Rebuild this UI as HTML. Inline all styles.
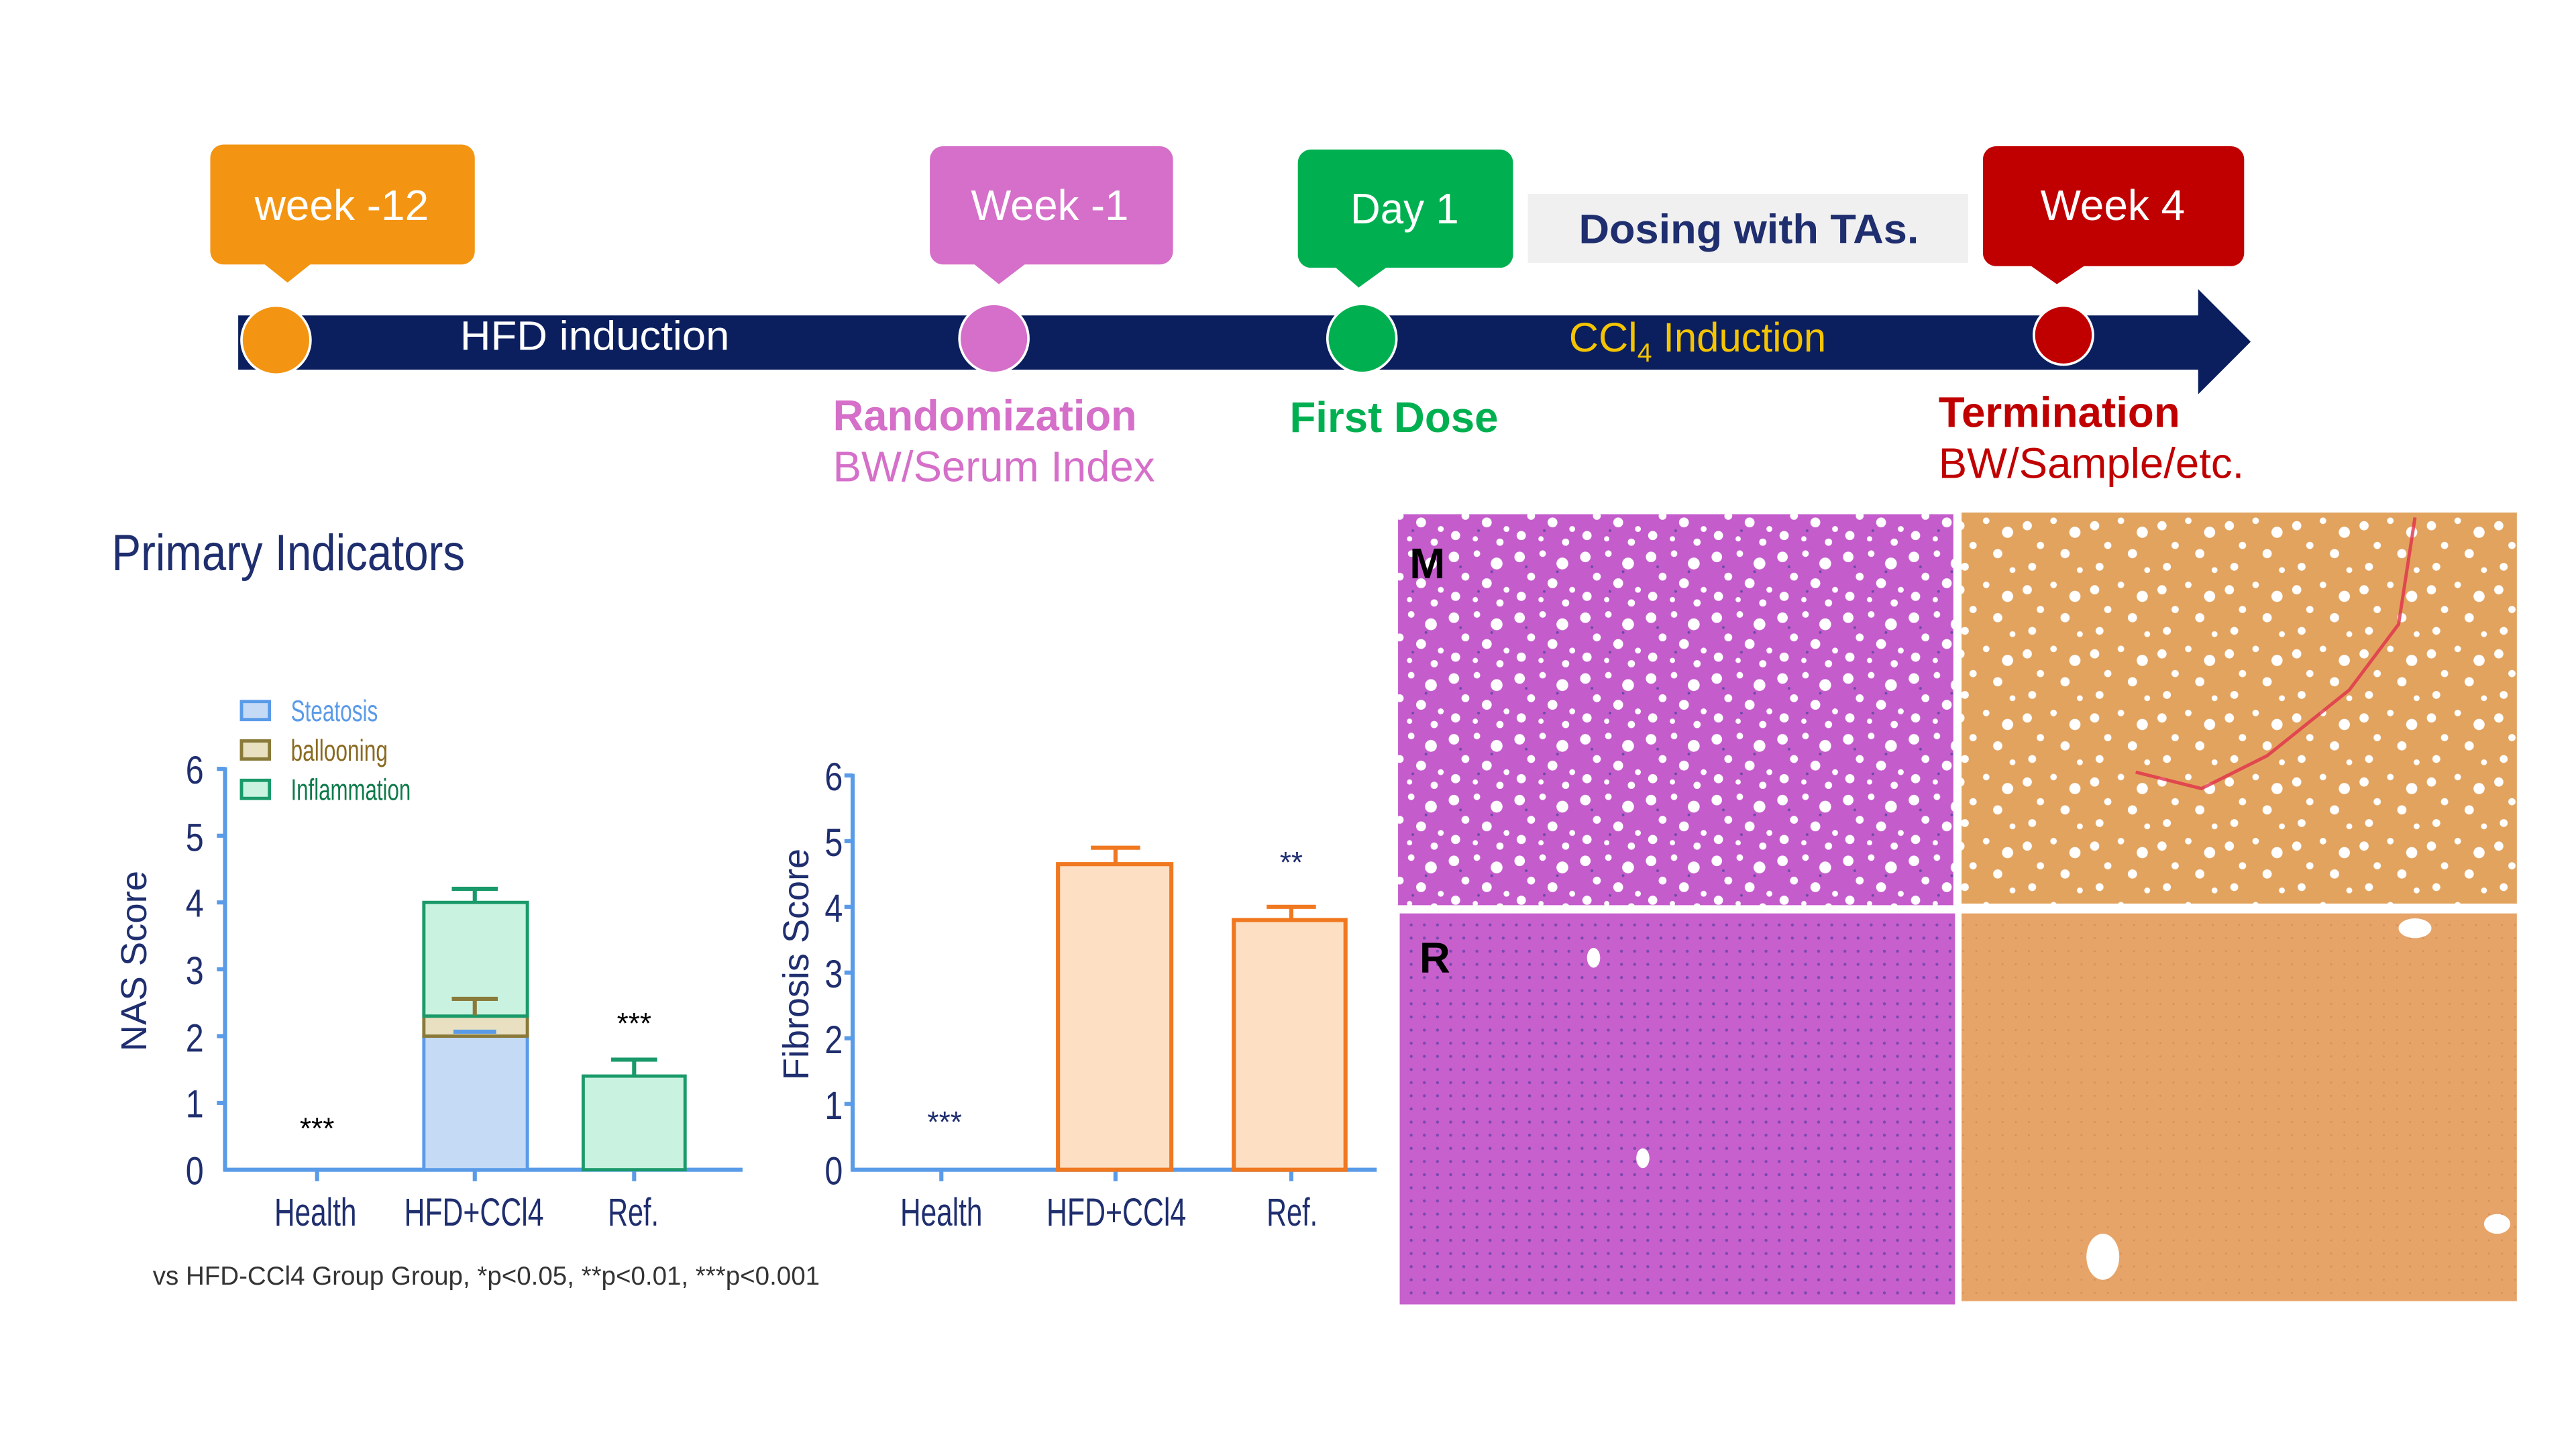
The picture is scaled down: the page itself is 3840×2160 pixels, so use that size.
<!DOCTYPE html>
<html><head><meta charset="utf-8"><style>
html,body{margin:0;padding:0;background:#fff;}
svg{display:block;}
text{font-family:"Liberation Sans",sans-serif;}
</style></head><body>
<svg width="3840" height="2160" viewBox="0 0 1568 882" xmlns="http://www.w3.org/2000/svg">
<defs>
<pattern id="fatP" width="40" height="37" patternUnits="userSpaceOnUse">
<rect width="40" height="37" fill="#c45ccc"/>
<circle cx="5" cy="6" r="3.2" fill="#fff"/><circle cx="19" cy="4" r="2" fill="#fff"/><circle cx="31" cy="10" r="3.6" fill="#fff"/>
<circle cx="12" cy="18" r="2.4" fill="#fff"/><circle cx="25" cy="22" r="3" fill="#fff"/><circle cx="37" cy="26" r="1.8" fill="#fff"/>
<circle cx="6" cy="30" r="2.8" fill="#fff"/><circle cx="18" cy="32" r="1.6" fill="#fff"/><circle cx="33" cy="34" r="2.2" fill="#fff"/>
<circle cx="9" cy="12" r="0.8" fill="#6a4aa8"/><circle cx="28" cy="15" r="0.8" fill="#6a4aa8"/><circle cx="20" cy="27" r="0.8" fill="#6a4aa8"/>
</pattern>
<pattern id="fatO" width="41" height="39" patternUnits="userSpaceOnUse">
<rect width="41" height="39" fill="#e2a35e"/>
<circle cx="4" cy="8" r="2.8" fill="#fff"/><circle cx="20" cy="5" r="2" fill="#fff"/><circle cx="33" cy="12" r="3.4" fill="#fff"/>
<circle cx="12" cy="20" r="2.2" fill="#fff"/><circle cx="27" cy="25" r="2.8" fill="#fff"/>
<circle cx="7" cy="33" r="2.4" fill="#fff"/><circle cx="36" cy="35" r="1.8" fill="#fff"/>
</pattern>
<pattern id="normP" width="8" height="8" patternUnits="userSpaceOnUse">
<rect width="8" height="8" fill="#c760cc"/><circle cx="3" cy="3" r="0.9" fill="#7a48b0"/>
</pattern>
<pattern id="normO" width="8" height="8" patternUnits="userSpaceOnUse">
<rect width="8" height="8" fill="#e6a468"/><circle cx="3" cy="3" r="0.6" fill="#d8905a"/>
</pattern>
</defs>

<!-- timeline -->
<rect x="145" y="192" width="1195" height="33" fill="#0b1f5e"/>
<polygon points="1338,176 1370,208 1338,240" fill="#0b1f5e"/>
<circle cx="168" cy="207" r="21" fill="#f39512" stroke="#fff" stroke-width="1.5"/>
<circle cx="605" cy="206" r="21" fill="#d56fc9" stroke="#fff" stroke-width="1.5"/>
<circle cx="829" cy="206" r="21" fill="#00b050" stroke="#fff" stroke-width="1.5"/>
<circle cx="1256" cy="204" r="18" fill="#c00000" stroke="#fff" stroke-width="1.5"/>
<text x="280" y="213" font-size="25" fill="#fff" textLength="164" lengthAdjust="spacingAndGlyphs">HFD induction</text>
<text x="955" y="214" font-size="25" fill="#f5c400">CCl<tspan font-size="16" dy="6">4</tspan><tspan dy="-6" textLength="106" lengthAdjust="spacingAndGlyphs"> Induction</tspan></text>

<rect x="128" y="88" width="161" height="73" rx="8" fill="#f39512"/>
<polygon points="160,160 190,160 175,172" fill="#f39512"/>
<text x="155" y="134" font-size="26" fill="#fff" textLength="106" lengthAdjust="spacingAndGlyphs">week -12</text>
<rect x="566" y="89" width="148" height="72" rx="8" fill="#d56fc9"/>
<polygon points="592,160 625,160 608,173" fill="#d56fc9"/>
<text x="591" y="134" font-size="26" fill="#fff" textLength="96" lengthAdjust="spacingAndGlyphs">Week -1</text>
<rect x="790" y="91" width="131" height="72" rx="8" fill="#00b050"/>
<polygon points="812,162 845,162 827,175" fill="#00b050"/>
<text x="822" y="136" font-size="26" fill="#fff" textLength="66" lengthAdjust="spacingAndGlyphs">Day 1</text>
<rect x="930" y="118" width="268" height="42" fill="#f0f0f0"/>
<text x="961" y="148" font-size="25" fill="#1f2e6e" font-weight="bold" textLength="207" lengthAdjust="spacingAndGlyphs">Dosing with TAs.</text>
<rect x="1207" y="89" width="159" height="73" rx="8" fill="#c00000"/>
<polygon points="1235,161 1270,161 1252,173" fill="#c00000"/>
<text x="1242" y="134" font-size="26" fill="#fff" textLength="88" lengthAdjust="spacingAndGlyphs">Week 4</text>

<text x="507" y="262" font-size="26" font-weight="bold" fill="#d56fc9" textLength="185" lengthAdjust="spacingAndGlyphs">Randomization</text>
<text x="507" y="293" font-size="26" fill="#d56fc9" textLength="196" lengthAdjust="spacingAndGlyphs">BW/Serum Index</text>
<text x="785" y="263" font-size="26" font-weight="bold" fill="#00b050" textLength="127" lengthAdjust="spacingAndGlyphs">First Dose</text>
<text x="1180" y="260" font-size="26" font-weight="bold" fill="#c00000" textLength="147" lengthAdjust="spacingAndGlyphs">Termination</text>
<text x="1180" y="291" font-size="26" fill="#c00000" textLength="186" lengthAdjust="spacingAndGlyphs">BW/Sample/etc.</text>

<text x="68" y="347" font-size="31" fill="#1f2e6e" textLength="215" lengthAdjust="spacingAndGlyphs">Primary Indicators</text>

<!-- histology -->
<rect x="851" y="313" width="338" height="238" fill="url(#fatP)"/>
<rect x="1194" y="312" width="338" height="238" fill="url(#fatO)"/>
<path d="M1470,315 L1460,380 L1430,420 L1380,460 L1340,480 L1300,470" stroke="#e0304a" stroke-width="2" fill="none" opacity="0.8"/>
<rect x="852" y="556" width="338" height="238" fill="url(#normP)"/>
<rect x="1194" y="556" width="338" height="236" fill="url(#normO)"/>
<ellipse cx="1000" cy="705" rx="4" ry="6" fill="#fff"/><ellipse cx="970" cy="583" rx="4" ry="6" fill="#fff"/>
<ellipse cx="1520" cy="745" rx="8" ry="6" fill="#fff"/><ellipse cx="1280" cy="765" rx="10" ry="14" fill="#fff"/>
<ellipse cx="1470" cy="565" rx="10" ry="6" fill="#fff"/>
<text x="858" y="352" font-size="26" font-weight="bold" fill="#000">M</text>
<text x="864" y="592" font-size="26" font-weight="bold" fill="#000">R</text>

<!-- NAS chart -->
<g stroke="#5a9be8" stroke-width="2.5" fill="none">
<line x1="137" y1="467" x2="137" y2="713"/>
<line x1="136" y1="712" x2="452" y2="712"/>
<line x1="132" y1="468" x2="137" y2="468"/><line x1="132" y1="508.7" x2="137" y2="508.7"/>
<line x1="132" y1="549.3" x2="137" y2="549.3"/><line x1="132" y1="590" x2="137" y2="590"/>
<line x1="132" y1="630.7" x2="137" y2="630.7"/><line x1="132" y1="671.3" x2="137" y2="671.3"/>
<line x1="193" y1="712" x2="193" y2="719"/><line x1="289" y1="712" x2="289" y2="719"/><line x1="386" y1="712" x2="386" y2="719"/>
</g>
<g font-size="24" fill="#1f2e6e" text-anchor="end">
<text x="124" y="477" textLength="11" lengthAdjust="spacingAndGlyphs">6</text><text x="124" y="518" textLength="11" lengthAdjust="spacingAndGlyphs">5</text><text x="124" y="558" textLength="11" lengthAdjust="spacingAndGlyphs">4</text>
<text x="124" y="599" textLength="11" lengthAdjust="spacingAndGlyphs">3</text><text x="124" y="640" textLength="11" lengthAdjust="spacingAndGlyphs">2</text><text x="124" y="680" textLength="11" lengthAdjust="spacingAndGlyphs">1</text><text x="124" y="721" textLength="11" lengthAdjust="spacingAndGlyphs">0</text>
</g>
<text transform="translate(89,585) rotate(-90)" font-size="22" fill="#1f2e6e" text-anchor="middle" textLength="110" lengthAdjust="spacingAndGlyphs">NAS Score</text>
<rect x="258" y="630.7" width="63" height="81.3" fill="#c5daf5" stroke="#5a9be8" stroke-width="2"/>
<rect x="258" y="618.5" width="63" height="12.2" fill="#e8e0c0" stroke="#8a7a3a" stroke-width="2"/>
<rect x="258" y="549.3" width="63" height="69.2" fill="#c9f3e0" stroke="#1a9a6a" stroke-width="2"/>
<g stroke-width="2.5">
<path d="M289,549 V541 M275,541 H303" stroke="#1a9a6a"/>
<path d="M289,618 V608 M275,608 H303" stroke="#8a7a3a"/>
<path d="M276,628 H302" stroke="#5a9be8"/>
</g>
<rect x="355" y="655" width="62" height="57" fill="#c9f3e0" stroke="#1a9a6a" stroke-width="2"/>
<path d="M386,655 V645 M372,645 H400" stroke="#1a9a6a" stroke-width="2.5"/>
<text x="193" y="693" font-size="18" text-anchor="middle" fill="#000">***</text>
<text x="386" y="629" font-size="18" text-anchor="middle" fill="#000">***</text>
<g font-size="24" fill="#1f2e6e">
<text x="167" y="746" textLength="50" lengthAdjust="spacingAndGlyphs">Health</text><text x="246" y="746" textLength="85" lengthAdjust="spacingAndGlyphs">HFD+CCl4</text><text x="370" y="746" textLength="31" lengthAdjust="spacingAndGlyphs">Ref.</text>
</g>
<rect x="147" y="427" width="17" height="11" fill="#c5daf5" stroke="#5a9be8" stroke-width="2"/>
<rect x="147" y="451" width="17" height="11" fill="#e8e0c0" stroke="#8a7a3a" stroke-width="2"/>
<rect x="147" y="475" width="17" height="11" fill="#c9f3e0" stroke="#1a9a6a" stroke-width="2"/>
<text x="177" y="439" font-size="18" fill="#5a9be8" textLength="53" lengthAdjust="spacingAndGlyphs">Steatosis</text>
<text x="177" y="463" font-size="18" fill="#8a6a20" textLength="59" lengthAdjust="spacingAndGlyphs">ballooning</text>
<text x="177" y="487" font-size="18" fill="#0e7a4a" textLength="73" lengthAdjust="spacingAndGlyphs">Inflammation</text>

<!-- Fibrosis chart -->
<g stroke="#5a9be8" stroke-width="2.5" fill="none">
<line x1="519" y1="471" x2="519" y2="713"/>
<line x1="518" y1="712" x2="838" y2="712"/>
<line x1="514" y1="472" x2="519" y2="472"/><line x1="514" y1="512" x2="519" y2="512"/>
<line x1="514" y1="552" x2="519" y2="552"/><line x1="514" y1="592" x2="519" y2="592"/>
<line x1="514" y1="632" x2="519" y2="632"/><line x1="514" y1="672" x2="519" y2="672"/>
<line x1="573" y1="712" x2="573" y2="719"/><line x1="679" y1="712" x2="679" y2="719"/><line x1="786" y1="712" x2="786" y2="719"/>
</g>
<g font-size="24" fill="#1f2e6e" text-anchor="end">
<text x="513" y="481" textLength="11" lengthAdjust="spacingAndGlyphs">6</text><text x="513" y="521" textLength="11" lengthAdjust="spacingAndGlyphs">5</text><text x="513" y="561" textLength="11" lengthAdjust="spacingAndGlyphs">4</text>
<text x="513" y="601" textLength="11" lengthAdjust="spacingAndGlyphs">3</text><text x="513" y="641" textLength="11" lengthAdjust="spacingAndGlyphs">2</text><text x="513" y="681" textLength="11" lengthAdjust="spacingAndGlyphs">1</text><text x="513" y="721" textLength="11" lengthAdjust="spacingAndGlyphs">0</text>
</g>
<text transform="translate(492,587) rotate(-90)" font-size="22" fill="#1f2e6e" text-anchor="middle" textLength="141" lengthAdjust="spacingAndGlyphs">Fibrosis Score</text>
<rect x="644" y="526" width="69" height="186" fill="#fde0c4" stroke="#f07820" stroke-width="2.5"/>
<path d="M679,526 V516 M664,516 H694" stroke="#f07820" stroke-width="2.5"/>
<rect x="751" y="560" width="68" height="152" fill="#fde0c4" stroke="#f07820" stroke-width="2.5"/>
<path d="M786,560 V552 M771,552 H801" stroke="#f07820" stroke-width="2.5"/>
<text x="575" y="689" font-size="18" text-anchor="middle" fill="#1f2e6e">***</text>
<text x="786" y="531" font-size="18" text-anchor="middle" fill="#1f2e6e">**</text>
<g font-size="24" fill="#1f2e6e">
<text x="548" y="746" textLength="50" lengthAdjust="spacingAndGlyphs">Health</text><text x="637" y="746" textLength="85" lengthAdjust="spacingAndGlyphs">HFD+CCl4</text><text x="771" y="746" textLength="31" lengthAdjust="spacingAndGlyphs">Ref.</text>
</g>

<text x="93" y="782" font-size="16" fill="#333" textLength="406" lengthAdjust="spacingAndGlyphs">vs HFD-CCl4 Group Group, *p&lt;0.05, **p&lt;0.01, ***p&lt;0.001</text>
</svg>
</body></html>
